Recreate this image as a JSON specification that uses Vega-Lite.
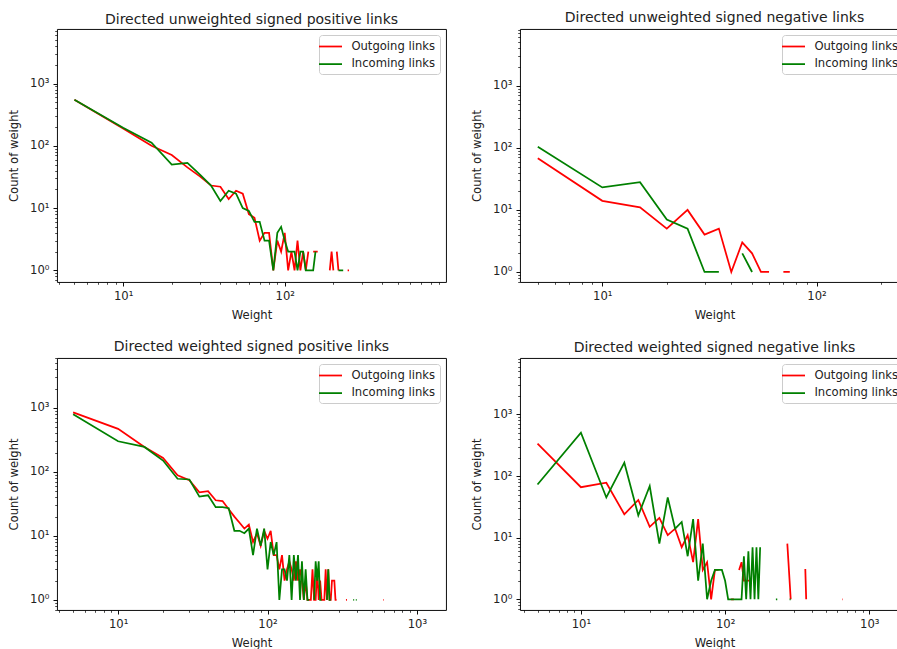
{
  "$schema": "https://vega.github.io/schema/vega-lite/v6.json",
  "autosize": {"type": "none"},
  "padding": {"left": 57, "top": 29, "right": 840, "bottom": 620},
  "background": "white",
  "columns": 2,
  "bounds": "flush",
  "spacing": {"row": 76, "column": 74},
  "resolve": {"scale": {"color": "independent"}, "legend": {"color": "independent"}},
  "config": {
    "font": "DejaVu Sans",
    "view": {"stroke": "#000000", "strokeWidth": 0.95},
    "axis": {"domain": false, "grid": false, "labelFont": "DejaVu Sans", "labelFontSize": 11.6, "labelColor": "#222222", "titleFont": "DejaVu Sans", "titleFontSize": 11.6, "titleFontWeight": "normal", "titleColor": "#222222", "tickColor": "#000000", "labelPadding": 4, "labelOverlap": false, "labelFlush": false, "labelBound": false},
    "axisY": {"titlePadding": 10},
    "axisX": {"titlePadding": 8},
    "title": {"font": "DejaVu Sans", "fontSize": 14, "fontWeight": "normal", "color": "#222222", "anchor": "middle", "frame": "group", "offset": -1.8, "baseline": "alphabetic"},
    "legend": {"orient": "top-right", "offset": 5.8, "padding": 4, "strokeColor": "#cccccc", "fillColor": "rgba(255,255,255,0.8)", "cornerRadius": 3, "symbolType": "M-1.77,0H1.77", "symbolSize": 169, "symbolStrokeWidth": 1.75, "labelFont": "DejaVu Sans", "labelFontSize": 11.6, "labelColor": "#222222", "labelOffset": 13.4, "rowPadding": 3.6}
  },
  "datasets": {
    "p1": [
      {"w":5,"s":"Outgoing links","c":550},{"w":10,"s":"Outgoing links","c":190},{"w":15,"s":"Outgoing links","c":100},{"w":20,"s":"Outgoing links","c":71},{"w":25,"s":"Outgoing links","c":45},{"w":30,"s":"Outgoing links","c":32},{"w":35,"s":"Outgoing links","c":23},{"w":40,"s":"Outgoing links","c":22},{"w":45,"s":"Outgoing links","c":14},{"w":50,"s":"Outgoing links","c":19},{"w":55,"s":"Outgoing links","c":17},{"w":60,"s":"Outgoing links","c":8},{"w":65,"s":"Outgoing links","c":7},{"w":70,"s":"Outgoing links","c":3},{"w":75,"s":"Outgoing links","c":4},{"w":80,"s":"Outgoing links","c":4},{"w":85,"s":"Outgoing links","c":1},{"w":90,"s":"Outgoing links","c":3},{"w":95,"s":"Outgoing links","c":2},{"w":100,"s":"Outgoing links","c":4},{"w":105,"s":"Outgoing links","c":1},{"w":110,"s":"Outgoing links","c":2},{"w":115,"s":"Outgoing links","c":1},{"w":120,"s":"Outgoing links","c":3},{"w":125,"s":"Outgoing links","c":1},{"w":130,"s":"Outgoing links","c":2},{"w":135,"s":"Outgoing links","c":1},{"w":140,"s":"Outgoing links","c":2},{"w":145,"s":"Outgoing links","c":null},{"w":150,"s":"Outgoing links","c":2},{"w":155,"s":"Outgoing links","c":2},{"w":160,"s":"Outgoing links","c":2},{"w":165,"s":"Outgoing links","c":null},{"w":190,"s":"Outgoing links","c":1},{"w":195,"s":"Outgoing links","c":2},{"w":200,"s":"Outgoing links","c":1},{"w":205,"s":"Outgoing links","c":null},{"w":210,"s":"Outgoing links","c":2},{"w":215,"s":"Outgoing links","c":1},{"w":220,"s":"Outgoing links","c":null},{"w":245,"s":"Outgoing links","c":1},{"w":250,"s":"Outgoing links","c":1},
      {"w":5,"s":"Incoming links","c":550},{"w":10,"s":"Incoming links","c":195},{"w":15,"s":"Incoming links","c":112},{"w":20,"s":"Incoming links","c":50},{"w":25,"s":"Incoming links","c":53},{"w":30,"s":"Incoming links","c":34},{"w":35,"s":"Incoming links","c":23},{"w":40,"s":"Incoming links","c":13},{"w":45,"s":"Incoming links","c":19},{"w":50,"s":"Incoming links","c":17},{"w":55,"s":"Incoming links","c":10},{"w":60,"s":"Incoming links","c":9},{"w":65,"s":"Incoming links","c":6},{"w":70,"s":"Incoming links","c":6},{"w":75,"s":"Incoming links","c":3},{"w":80,"s":"Incoming links","c":3},{"w":85,"s":"Incoming links","c":1},{"w":90,"s":"Incoming links","c":4},{"w":95,"s":"Incoming links","c":5},{"w":100,"s":"Incoming links","c":3},{"w":105,"s":"Incoming links","c":2},{"w":110,"s":"Incoming links","c":2},{"w":115,"s":"Incoming links","c":2},{"w":120,"s":"Incoming links","c":1},{"w":125,"s":"Incoming links","c":2},{"w":130,"s":"Incoming links","c":2},{"w":135,"s":"Incoming links","c":1},{"w":140,"s":"Incoming links","c":1},{"w":145,"s":"Incoming links","c":1},{"w":150,"s":"Incoming links","c":1},{"w":155,"s":"Incoming links","c":2},{"w":160,"s":"Incoming links","c":null},{"w":215,"s":"Incoming links","c":1},{"w":220,"s":"Incoming links","c":1},{"w":225,"s":"Incoming links","c":1},{"w":230,"s":"Incoming links","c":1}
    ],
    "p2": [
      {"w":5,"s":"Outgoing links","c":68},{"w":10,"s":"Outgoing links","c":14},{"w":15,"s":"Outgoing links","c":11},{"w":20,"s":"Outgoing links","c":5},{"w":25,"s":"Outgoing links","c":10},{"w":30,"s":"Outgoing links","c":4},{"w":35,"s":"Outgoing links","c":5},{"w":40,"s":"Outgoing links","c":1},{"w":45,"s":"Outgoing links","c":3},{"w":50,"s":"Outgoing links","c":2},{"w":55,"s":"Outgoing links","c":1},{"w":60,"s":"Outgoing links","c":1},{"w":65,"s":"Outgoing links","c":null},{"w":70,"s":"Outgoing links","c":1},{"w":75,"s":"Outgoing links","c":1},
      {"w":5,"s":"Incoming links","c":104},{"w":10,"s":"Incoming links","c":23},{"w":15,"s":"Incoming links","c":28},{"w":20,"s":"Incoming links","c":7},{"w":25,"s":"Incoming links","c":5},{"w":30,"s":"Incoming links","c":1},{"w":35,"s":"Incoming links","c":1},{"w":40,"s":"Incoming links","c":null},{"w":45,"s":"Incoming links","c":2},{"w":50,"s":"Incoming links","c":1}
    ],
    "p3": [
      {"w":5,"s":"Outgoing links","c":850},{"w":10,"s":"Outgoing links","c":470},{"w":15,"s":"Outgoing links","c":245},{"w":20,"s":"Outgoing links","c":165},{"w":25,"s":"Outgoing links","c":88},{"w":30,"s":"Outgoing links","c":74},{"w":35,"s":"Outgoing links","c":48},{"w":40,"s":"Outgoing links","c":50},{"w":45,"s":"Outgoing links","c":36},{"w":50,"s":"Outgoing links","c":35},{"w":55,"s":"Outgoing links","c":26},{"w":60,"s":"Outgoing links","c":20},{"w":65,"s":"Outgoing links","c":16},{"w":70,"s":"Outgoing links","c":13},{"w":75,"s":"Outgoing links","c":15},{"w":80,"s":"Outgoing links","c":8},{"w":85,"s":"Outgoing links","c":11},{"w":90,"s":"Outgoing links","c":7},{"w":95,"s":"Outgoing links","c":12},{"w":100,"s":"Outgoing links","c":9},{"w":105,"s":"Outgoing links","c":12},{"w":110,"s":"Outgoing links","c":5},{"w":115,"s":"Outgoing links","c":5},{"w":120,"s":"Outgoing links","c":3},{"w":125,"s":"Outgoing links","c":5},{"w":130,"s":"Outgoing links","c":2},{"w":135,"s":"Outgoing links","c":3},{"w":140,"s":"Outgoing links","c":4},{"w":145,"s":"Outgoing links","c":3},{"w":150,"s":"Outgoing links","c":2},{"w":155,"s":"Outgoing links","c":4},{"w":160,"s":"Outgoing links","c":2},{"w":165,"s":"Outgoing links","c":3},{"w":170,"s":"Outgoing links","c":2},{"w":175,"s":"Outgoing links","c":1},{"w":180,"s":"Outgoing links","c":2},{"w":185,"s":"Outgoing links","c":1},{"w":190,"s":"Outgoing links","c":1},{"w":195,"s":"Outgoing links","c":1},{"w":200,"s":"Outgoing links","c":3},{"w":205,"s":"Outgoing links","c":1},{"w":210,"s":"Outgoing links","c":1},{"w":215,"s":"Outgoing links","c":3},{"w":220,"s":"Outgoing links","c":1},{"w":225,"s":"Outgoing links","c":2},{"w":230,"s":"Outgoing links","c":1},{"w":235,"s":"Outgoing links","c":1},{"w":240,"s":"Outgoing links","c":1},{"w":245,"s":"Outgoing links","c":3},{"w":250,"s":"Outgoing links","c":1},{"w":255,"s":"Outgoing links","c":3},{"w":260,"s":"Outgoing links","c":1},{"w":265,"s":"Outgoing links","c":1},{"w":270,"s":"Outgoing links","c":2},{"w":275,"s":"Outgoing links","c":2},{"w":280,"s":"Outgoing links","c":2},{"w":285,"s":"Outgoing links","c":1},{"w":290,"s":"Outgoing links","c":1},{"w":295,"s":"Outgoing links","c":null},{"w":335,"s":"Outgoing links","c":1},{"w":340,"s":"Outgoing links","c":1},{"w":345,"s":"Outgoing links","c":null},{"w":595,"s":"Outgoing links","c":1},{"w":600,"s":"Outgoing links","c":1},
      {"w":5,"s":"Incoming links","c":790},{"w":10,"s":"Incoming links","c":300},{"w":15,"s":"Incoming links","c":245},{"w":20,"s":"Incoming links","c":150},{"w":25,"s":"Incoming links","c":78},{"w":30,"s":"Incoming links","c":76},{"w":35,"s":"Incoming links","c":41},{"w":40,"s":"Incoming links","c":43},{"w":45,"s":"Incoming links","c":28},{"w":50,"s":"Incoming links","c":28},{"w":55,"s":"Incoming links","c":27},{"w":60,"s":"Incoming links","c":12},{"w":65,"s":"Incoming links","c":12},{"w":70,"s":"Incoming links","c":11},{"w":75,"s":"Incoming links","c":13},{"w":80,"s":"Incoming links","c":5},{"w":85,"s":"Incoming links","c":13},{"w":90,"s":"Incoming links","c":7},{"w":95,"s":"Incoming links","c":13},{"w":100,"s":"Incoming links","c":3},{"w":105,"s":"Incoming links","c":8},{"w":110,"s":"Incoming links","c":5},{"w":115,"s":"Incoming links","c":8},{"w":120,"s":"Incoming links","c":1},{"w":125,"s":"Incoming links","c":3},{"w":130,"s":"Incoming links","c":3},{"w":135,"s":"Incoming links","c":2},{"w":140,"s":"Incoming links","c":5},{"w":145,"s":"Incoming links","c":1},{"w":150,"s":"Incoming links","c":5},{"w":155,"s":"Incoming links","c":2},{"w":160,"s":"Incoming links","c":5},{"w":165,"s":"Incoming links","c":1},{"w":170,"s":"Incoming links","c":4},{"w":175,"s":"Incoming links","c":1},{"w":180,"s":"Incoming links","c":3},{"w":185,"s":"Incoming links","c":1},{"w":190,"s":"Incoming links","c":1},{"w":195,"s":"Incoming links","c":null},{"w":205,"s":"Incoming links","c":1},{"w":210,"s":"Incoming links","c":4},{"w":215,"s":"Incoming links","c":2},{"w":220,"s":"Incoming links","c":4},{"w":225,"s":"Incoming links","c":1},{"w":230,"s":"Incoming links","c":1},{"w":235,"s":"Incoming links","c":null},{"w":250,"s":"Incoming links","c":1},{"w":255,"s":"Incoming links","c":3},{"w":260,"s":"Incoming links","c":1},{"w":265,"s":"Incoming links","c":1},{"w":270,"s":"Incoming links","c":null},{"w":375,"s":"Incoming links","c":1},{"w":380,"s":"Incoming links","c":1},{"w":385,"s":"Incoming links","c":null},{"w":390,"s":"Incoming links","c":1},{"w":395,"s":"Incoming links","c":1}
    ],
    "p4": [
      {"w":5,"s":"Outgoing links","c":336},{"w":10,"s":"Outgoing links","c":66},{"w":15,"s":"Outgoing links","c":78},{"w":20,"s":"Outgoing links","c":24},{"w":25,"s":"Outgoing links","c":41},{"w":30,"s":"Outgoing links","c":15},{"w":35,"s":"Outgoing links","c":21},{"w":40,"s":"Outgoing links","c":11},{"w":45,"s":"Outgoing links","c":14},{"w":50,"s":"Outgoing links","c":7},{"w":55,"s":"Outgoing links","c":11},{"w":60,"s":"Outgoing links","c":4},{"w":65,"s":"Outgoing links","c":20},{"w":70,"s":"Outgoing links","c":3},{"w":75,"s":"Outgoing links","c":4},{"w":80,"s":"Outgoing links","c":1},{"w":85,"s":"Outgoing links","c":3},{"w":90,"s":"Outgoing links","c":3},{"w":95,"s":"Outgoing links","c":null},{"w":110,"s":"Outgoing links","c":1},{"w":115,"s":"Outgoing links","c":1},{"w":120,"s":"Outgoing links","c":null},{"w":125,"s":"Outgoing links","c":3},{"w":130,"s":"Outgoing links","c":4},{"w":135,"s":"Outgoing links","c":2},{"w":140,"s":"Outgoing links","c":2},{"w":145,"s":"Outgoing links","c":2},{"w":150,"s":"Outgoing links","c":2},{"w":155,"s":"Outgoing links","c":null},{"w":270,"s":"Outgoing links","c":8},{"w":275,"s":"Outgoing links","c":4},{"w":280,"s":"Outgoing links","c":2},{"w":285,"s":"Outgoing links","c":1},{"w":290,"s":"Outgoing links","c":null},{"w":355,"s":"Outgoing links","c":3},{"w":360,"s":"Outgoing links","c":3},{"w":365,"s":"Outgoing links","c":1},{"w":370,"s":"Outgoing links","c":null},{"w":650,"s":"Outgoing links","c":1},{"w":655,"s":"Outgoing links","c":1},
      {"w":5,"s":"Incoming links","c":73},{"w":10,"s":"Incoming links","c":507},{"w":15,"s":"Incoming links","c":45},{"w":20,"s":"Incoming links","c":165},{"w":25,"s":"Incoming links","c":23},{"w":30,"s":"Incoming links","c":69},{"w":35,"s":"Incoming links","c":8},{"w":40,"s":"Incoming links","c":45},{"w":45,"s":"Incoming links","c":14},{"w":50,"s":"Incoming links","c":18},{"w":55,"s":"Incoming links","c":5},{"w":60,"s":"Incoming links","c":20},{"w":65,"s":"Incoming links","c":2},{"w":70,"s":"Incoming links","c":8},{"w":75,"s":"Incoming links","c":1},{"w":80,"s":"Incoming links","c":2},{"w":85,"s":"Incoming links","c":3},{"w":90,"s":"Incoming links","c":3},{"w":95,"s":"Incoming links","c":3},{"w":100,"s":"Incoming links","c":2},{"w":105,"s":"Incoming links","c":1},{"w":110,"s":"Incoming links","c":1},{"w":115,"s":"Incoming links","c":1},{"w":120,"s":"Incoming links","c":1},{"w":125,"s":"Incoming links","c":1},{"w":130,"s":"Incoming links","c":1},{"w":135,"s":"Incoming links","c":5},{"w":140,"s":"Incoming links","c":1},{"w":145,"s":"Incoming links","c":6},{"w":150,"s":"Incoming links","c":1},{"w":155,"s":"Incoming links","c":7},{"w":160,"s":"Incoming links","c":1},{"w":165,"s":"Incoming links","c":7},{"w":170,"s":"Incoming links","c":1},{"w":175,"s":"Incoming links","c":7},{"w":180,"s":"Incoming links","c":null},{"w":225,"s":"Incoming links","c":1},{"w":230,"s":"Incoming links","c":1},{"w":235,"s":"Incoming links","c":null},{"w":280,"s":"Incoming links","c":1},{"w":285,"s":"Incoming links","c":1}
    ]
  },
  "concat": [
    {
      "title": "Directed unweighted signed positive links",
      "width": 389, "height": 253,
      "data": {"name": "p1"},
      "mark": {"type": "line", "strokeWidth": 1.75, "clip": true, "invalid": "break-paths-filter-domains"},
      "encoding": {
        "x": {"field": "w", "type": "quantitative", "scale": {"type": "log", "domain": [3.9, 995], "nice": false},
          "axis": {"title": "Weight", "values": [4,5,6,7,8,9,10,20,30,40,50,60,70,80,90,100,200,300,400,500,600,700,800,900],
            "labelExpr": "datum.value == 1 ? '10⁰' : datum.value == 10 ? '10¹' : datum.value == 100 ? '10²' : datum.value == 1000 ? '10³' : ''",
            "tickSize": {"condition": {"test": "datum.value == 1 || datum.value == 10 || datum.value == 100 || datum.value == 1000", "value": 4}, "value": 2.3},
            "tickWidth": {"condition": {"test": "datum.value == 1 || datum.value == 10 || datum.value == 100 || datum.value == 1000", "value": 0.95}, "value": 0.7}}},
        "y": {"field": "c", "type": "quantitative", "scale": {"type": "log", "domain": [0.65, 7500], "nice": false},
          "axis": {"title": "Count of weight", "values": [0.7,0.8,0.9,1,2,3,4,5,6,7,8,9,10,20,30,40,50,60,70,80,90,100,200,300,400,500,600,700,800,900,1000,2000,3000,4000,5000,6000,7000],
            "labelExpr": "datum.value == 1 ? '10⁰' : datum.value == 10 ? '10¹' : datum.value == 100 ? '10²' : datum.value == 1000 ? '10³' : ''",
            "tickSize": {"condition": {"test": "datum.value == 1 || datum.value == 10 || datum.value == 100 || datum.value == 1000", "value": 4}, "value": 2.3},
            "tickWidth": {"condition": {"test": "datum.value == 1 || datum.value == 10 || datum.value == 100 || datum.value == 1000", "value": 0.95}, "value": 0.7}}},
        "color": {"field": "s", "type": "nominal", "scale": {"domain": ["Outgoing links", "Incoming links"], "range": ["#ff0000", "#008000"]}, "legend": {"title": null}}
      }
    },
    {
      "title": "Directed unweighted signed negative links",
      "width": 389, "height": 253,
      "data": {"name": "p2"},
      "mark": {"type": "line", "strokeWidth": 1.75, "clip": true, "invalid": "break-paths-filter-domains"},
      "encoding": {
        "x": {"field": "w", "type": "quantitative", "scale": {"type": "log", "domain": [4.13, 270], "nice": false},
          "axis": {"title": "Weight", "values": [5,6,7,8,9,10,20,30,40,50,60,70,80,90,100,200],
            "labelExpr": "datum.value == 1 ? '10⁰' : datum.value == 10 ? '10¹' : datum.value == 100 ? '10²' : datum.value == 1000 ? '10³' : ''",
            "tickSize": {"condition": {"test": "datum.value == 1 || datum.value == 10 || datum.value == 100 || datum.value == 1000", "value": 4}, "value": 2.3},
            "tickWidth": {"condition": {"test": "datum.value == 1 || datum.value == 10 || datum.value == 100 || datum.value == 1000", "value": 0.95}, "value": 0.7}}},
        "y": {"field": "c", "type": "quantitative", "scale": {"type": "log", "domain": [0.69, 8200], "nice": false},
          "axis": {"title": "Count of weight", "values": [0.7,0.8,0.9,1,2,3,4,5,6,7,8,9,10,20,30,40,50,60,70,80,90,100,200,300,400,500,600,700,800,900,1000,2000,3000,4000,5000,6000,7000,8000],
            "labelExpr": "datum.value == 1 ? '10⁰' : datum.value == 10 ? '10¹' : datum.value == 100 ? '10²' : datum.value == 1000 ? '10³' : ''",
            "tickSize": {"condition": {"test": "datum.value == 1 || datum.value == 10 || datum.value == 100 || datum.value == 1000", "value": 4}, "value": 2.3},
            "tickWidth": {"condition": {"test": "datum.value == 1 || datum.value == 10 || datum.value == 100 || datum.value == 1000", "value": 0.95}, "value": 0.7}}},
        "color": {"field": "s", "type": "nominal", "scale": {"domain": ["Outgoing links", "Incoming links"], "range": ["#ff0000", "#008000"]}, "legend": {"title": null}}
      }
    },
    {
      "title": "Directed weighted signed positive links",
      "width": 389, "height": 252,
      "data": {"name": "p3"},
      "mark": {"type": "line", "strokeWidth": 1.75, "clip": true, "invalid": "break-paths-filter-domains"},
      "encoding": {
        "x": {"field": "w", "type": "quantitative", "scale": {"type": "log", "domain": [3.9, 1565], "nice": false},
          "axis": {"title": "Weight", "values": [4,5,6,7,8,9,10,20,30,40,50,60,70,80,90,100,200,300,400,500,600,700,800,900,1000],
            "labelExpr": "datum.value == 1 ? '10⁰' : datum.value == 10 ? '10¹' : datum.value == 100 ? '10²' : datum.value == 1000 ? '10³' : ''",
            "tickSize": {"condition": {"test": "datum.value == 1 || datum.value == 10 || datum.value == 100 || datum.value == 1000", "value": 4}, "value": 2.3},
            "tickWidth": {"condition": {"test": "datum.value == 1 || datum.value == 10 || datum.value == 100 || datum.value == 1000", "value": 0.95}, "value": 0.7}}},
        "y": {"field": "c", "type": "quantitative", "scale": {"type": "log", "domain": [0.695, 6000], "nice": false},
          "axis": {"title": "Count of weight", "values": [0.7,0.8,0.9,1,2,3,4,5,6,7,8,9,10,20,30,40,50,60,70,80,90,100,200,300,400,500,600,700,800,900,1000,2000,3000,4000,5000,6000],
            "labelExpr": "datum.value == 1 ? '10⁰' : datum.value == 10 ? '10¹' : datum.value == 100 ? '10²' : datum.value == 1000 ? '10³' : ''",
            "tickSize": {"condition": {"test": "datum.value == 1 || datum.value == 10 || datum.value == 100 || datum.value == 1000", "value": 4}, "value": 2.3},
            "tickWidth": {"condition": {"test": "datum.value == 1 || datum.value == 10 || datum.value == 100 || datum.value == 1000", "value": 0.95}, "value": 0.7}}},
        "color": {"field": "s", "type": "nominal", "scale": {"domain": ["Outgoing links", "Incoming links"], "range": ["#ff0000", "#008000"]}, "legend": {"title": null}}
      }
    },
    {
      "title": "Directed weighted signed negative links",
      "width": 389, "height": 252,
      "data": {"name": "p4"},
      "mark": {"type": "line", "strokeWidth": 1.75, "clip": true, "invalid": "break-paths-filter-domains"},
      "encoding": {
        "x": {"field": "w", "type": "quantitative", "scale": {"type": "log", "domain": [3.78, 1885], "nice": false},
          "axis": {"title": "Weight", "values": [4,5,6,7,8,9,10,20,30,40,50,60,70,80,90,100,200,300,400,500,600,700,800,900,1000],
            "labelExpr": "datum.value == 1 ? '10⁰' : datum.value == 10 ? '10¹' : datum.value == 100 ? '10²' : datum.value == 1000 ? '10³' : ''",
            "tickSize": {"condition": {"test": "datum.value == 1 || datum.value == 10 || datum.value == 100 || datum.value == 1000", "value": 4}, "value": 2.3},
            "tickWidth": {"condition": {"test": "datum.value == 1 || datum.value == 10 || datum.value == 100 || datum.value == 1000", "value": 0.95}, "value": 0.7}}},
        "y": {"field": "c", "type": "quantitative", "scale": {"type": "log", "domain": [0.67, 8260], "nice": false},
          "axis": {"title": "Count of weight", "values": [0.7,0.8,0.9,1,2,3,4,5,6,7,8,9,10,20,30,40,50,60,70,80,90,100,200,300,400,500,600,700,800,900,1000,2000,3000,4000,5000,6000,7000,8000],
            "labelExpr": "datum.value == 1 ? '10⁰' : datum.value == 10 ? '10¹' : datum.value == 100 ? '10²' : datum.value == 1000 ? '10³' : ''",
            "tickSize": {"condition": {"test": "datum.value == 1 || datum.value == 10 || datum.value == 100 || datum.value == 1000", "value": 4}, "value": 2.3},
            "tickWidth": {"condition": {"test": "datum.value == 1 || datum.value == 10 || datum.value == 100 || datum.value == 1000", "value": 0.95}, "value": 0.7}}},
        "color": {"field": "s", "type": "nominal", "scale": {"domain": ["Outgoing links", "Incoming links"], "range": ["#ff0000", "#008000"]}, "legend": {"title": null}}
      }
    }
  ]
}
